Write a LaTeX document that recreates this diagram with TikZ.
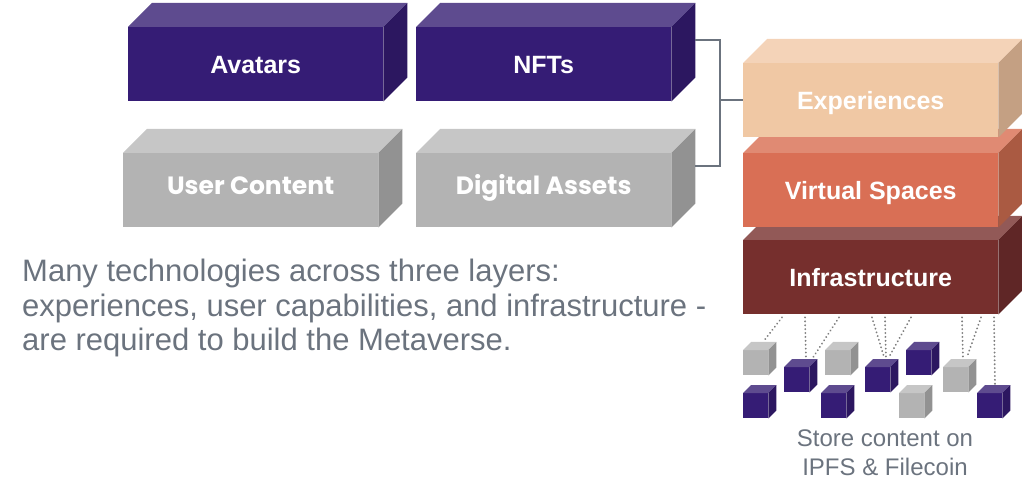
\documentclass[tikz,border=0pt]{standalone}
\usepackage{fontspec}
\setmainfont{Liberation Sans}
\newfontfamily\poppins{Poppins}
\usepackage{xcolor}
\usepackage{tikz}
\usetikzlibrary{positioning}

\definecolor{purplefront}{HTML}{351C75}
\definecolor{purpletop}{HTML}{5E4B8F}
\definecolor{purpleside}{HTML}{2C1760}
\definecolor{grayfront}{HTML}{B3B3B3}
\definecolor{graytop}{HTML}{C6C6C6}
\definecolor{grayside}{HTML}{929292}
\definecolor{expfront}{HTML}{F0C8A4}
\definecolor{exptop}{HTML}{F4D3B8}
\definecolor{expside}{HTML}{C4A083}
\definecolor{vsfront}{HTML}{D96F55}
\definecolor{vstop}{HTML}{E08A73}
\definecolor{vsside}{HTML}{AA5A42}
\definecolor{infrafront}{HTML}{762F2D}
\definecolor{infratop}{HTML}{925957}
\definecolor{infraside}{HTML}{5F2626}
\definecolor{textgray}{HTML}{6B737E}
\definecolor{wiregray}{HTML}{7E7E7E}

\begin{document}
\begin{tikzpicture}[x=1pt, y=-1pt]
    \tikzstyle{slab} = [rectangle, anchor=north west, inner sep=0pt, minimum width=255pt, minimum height=74pt, text=white, text height=18pt, text depth=0pt, font=\bfseries\fontsize{25}{28}\selectfont]
    \tikzstyle{grayslab} = [slab, fill=grayfront, text height=17.5pt, text depth=9.5pt, font=\poppins\bfseries\fontsize{25}{28}\selectfont]
    \tikzstyle{cube} = [rectangle, anchor=north west, inner sep=0pt, minimum size=25pt]
    \tikzstyle{link} = [line width=2.5pt, color=textgray]
    \tikzstyle{wire} = [line width=2pt, color=wiregray, dash pattern=on 0.1pt off 3.8pt, line cap=round]

    \useasboundingbox (0,0) rectangle (1022,502);

    % Avatars
    \node [slab, fill=purplefront] (avatars) at (128,27) {Avatars};
    \fill [purpletop] (avatars.north west) -- ++(24,-24) -- ([shift={(24,-24)}]avatars.north east) -- (avatars.north east) -- cycle;
    \fill [purpleside] (avatars.north east) -- ++(24,-24) -- ([shift={(24,-24)}]avatars.south east) -- (avatars.south east) -- cycle;

    % NFTs
    \node [slab, fill=purplefront] (nfts) at (416,27) {NFTs};
    \fill [purpletop] (nfts.north west) -- ++(24,-24) -- ([shift={(24,-24)}]nfts.north east) -- (nfts.north east) -- cycle;
    \fill [purpleside] (nfts.north east) -- ++(24,-24) -- ([shift={(24,-24)}]nfts.south east) -- (nfts.south east) -- cycle;

    % User Content
    \node [grayslab] (usercontent) at (123,153) {User Content};
    \fill [graytop] (usercontent.north west) -- ++(24,-24) -- ([shift={(24,-24)}]usercontent.north east) -- (usercontent.north east) -- cycle;
    \fill [grayside] (usercontent.north east) -- ++(24,-24) -- ([shift={(24,-24)}]usercontent.south east) -- (usercontent.south east) -- cycle;

    % Digital Assets
    \node [grayslab] (assets) at (416,153) {Digital Assets};
    \fill [graytop] (assets.north west) -- ++(24,-24) -- ([shift={(24,-24)}]assets.north east) -- (assets.north east) -- cycle;
    \fill [grayside] (assets.north east) -- ++(24,-24) -- ([shift={(24,-24)}]assets.south east) -- (assets.south east) -- cycle;

    % Infrastructure
    \node [slab, fill=infrafront] (infra) at (743,240) {Infrastructure};
    \fill [infratop] (infra.north west) -- ++(24,-24) -- ([shift={(24,-24)}]infra.north east) -- (infra.north east) -- cycle;
    \fill [infraside] (infra.north east) -- ++(24,-24) -- ([shift={(24,-24)}]infra.south east) -- (infra.south east) -- cycle;

    % Virtual Spaces
    \node [slab, fill=vsfront] (spaces) at (743,153) {Virtual Spaces};
    \fill [vstop] (spaces.north west) -- ++(24,-24) -- ([shift={(24,-24)}]spaces.north east) -- (spaces.north east) -- cycle;
    \fill [vsside] (spaces.north east) -- ++(24,-24) -- ([shift={(24,-24)}]spaces.south east) -- (spaces.south east) -- cycle;

    % Experiences
    \node [slab, fill=expfront] (experiences) at (743,63) {Experiences};
    \fill [exptop] (experiences.north west) -- ++(24,-24) -- ([shift={(24,-24)}]experiences.north east) -- (experiences.north east) -- cycle;
    \fill [expside] (experiences.north east) -- ++(24,-24) -- ([shift={(24,-24)}]experiences.south east) -- (experiences.south east) -- cycle;

    % Bracket
    \coordinate (nftsback) at ([shift={(24,-24)}]nfts.east);
    \coordinate (assetsback) at ([shift={(24,-24)}]assets.east);
    \coordinate (hub) at ([shift={(-23,0)}]experiences.west);
    \draw [link] (nftsback) -| (hub) |- (assetsback);
    \draw [link] (hub) -- (experiences.west);

    % Storage cubes
    \foreach \n/\x/\y/\col in {1/743/350/gray, 2/784/367/purple, 3/825/350/gray, 4/865/367/purple, 5/906/350/purple,
                               6/943/367/gray, 7/743/393/purple, 8/821/393/purple, 9/899/393/gray, 10/977/393/purple} {
        \node [cube, fill=\col front] (cube\n) at (\x,\y) {};
        \fill [\col top] (cube\n.north west) -- ++(8,-8) -- ([shift={(8,-8)}]cube\n.north east) -- (cube\n.north east) -- cycle;
        \fill [\col side] (cube\n.north east) -- ++(8,-8) -- ([shift={(8,-8)}]cube\n.south east) -- (cube\n.south east) -- cycle;
    }

    % Dotted links
    \draw [wire] ([shift={(39,3)}]infra.south west) -- ([shift={(20,-8)}]cube1.north west);
    \draw [wire] ([shift={(62,3)}]infra.south west) -- ([shift={(22,-8)}]cube2.north west);
    \draw [wire] ([shift={(96,3)}]infra.south west) -- ([shift={(28,-8)}]cube2.north west);
    \draw [wire] ([shift={(129,3)}]infra.south west) -- ([shift={(19,-10)}]cube4.north west);
    \draw [wire] ([shift={(142,3)}]infra.south west) -- ([shift={(21,-8)}]cube4.north west);
    \draw [wire] ([shift={(168,3)}]infra.south west) -- ([shift={(24,-10)}]cube4.north west);
    \draw [wire] ([shift={(219,3)}]infra.south west) -- ([shift={(20,-8)}]cube6.north west);
    \draw [wire] ([shift={(238,3)}]infra.south west) -- ([shift={(24,-10)}]cube6.north west);
    \draw [wire] ([shift={(251,3)}]infra.south west) -- ([shift={(18,-8)}]cube10.north west);

    % Captions
    \node [anchor=north, align=center, inner sep=0pt, text=textgray, font=\fontsize{24}{29}\selectfont] (storage) at (885,430) {Store content on\\IPFS \& Filecoin};
    \node [anchor=north west, align=left, inner sep=0pt, text=textgray, font=\fontsize{31}{34.5}\selectfont] (summary) at (22,259) {Many technologies across three layers:\\experiences, user capabilities, and infrastructure -\\are required to build the Metaverse.};
\end{tikzpicture}
\end{document}
